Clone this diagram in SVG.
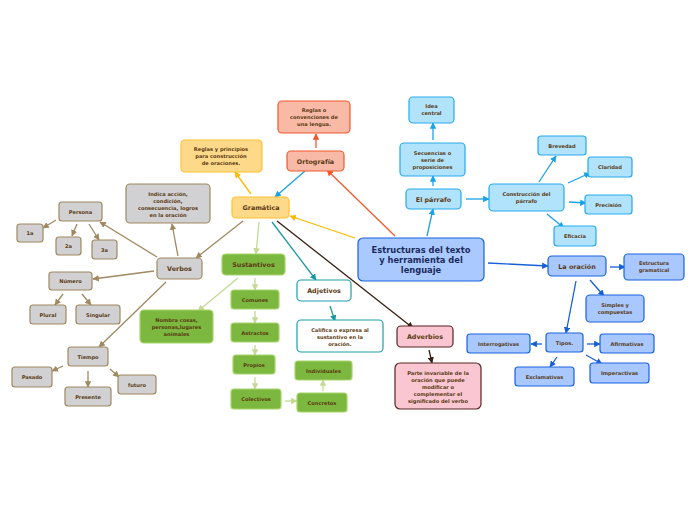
<svg xmlns="http://www.w3.org/2000/svg" width="696" height="520" viewBox="0 0 696 520">
<style>
text{font-family:"DejaVu Sans","Liberation Sans",sans-serif;font-weight:bold;text-anchor:middle;fill:#5a3a12}
.xl{font-size:8.3px;fill:#1c2b5c}
.l{font-size:6.4px}
.s{font-size:5.1px}
rect{stroke-width:1.2}
.c{fill:#a9c9ff;stroke:#1763e0}
.o{fill:#ffd98a;stroke:#ffc12b}
.r{fill:#f8b9a6;stroke:#f0592b}
.g{fill:#d1d1d3;stroke:#a08861}
.gr{fill:#7cb83f;stroke:#a8d46c}
.a{fill:#ffffff;stroke:#1aa0a9}
.p{fill:#f9c6d1;stroke:#5b2424}
.b{fill:#b2e3fc;stroke:#28a9e9}
.d{fill:#a8c8ff;stroke:#1a62e0}
#conn line{stroke-width:1.3;fill:none}
</style>
<defs>
<marker id="mO" viewBox="0 0 10 10" refX="9" refY="5" markerWidth="5" markerHeight="5" orient="auto" markerUnits="strokeWidth"><path d="M0,0L10,5L0,10z" fill="#ffb900"/></marker>
<marker id="mR" viewBox="0 0 10 10" refX="9" refY="5" markerWidth="5" markerHeight="5" orient="auto" markerUnits="strokeWidth"><path d="M0,0L10,5L0,10z" fill="#f0592b"/></marker>
<marker id="mB" viewBox="0 0 10 10" refX="9" refY="5" markerWidth="5" markerHeight="5" orient="auto" markerUnits="strokeWidth"><path d="M0,0L10,5L0,10z" fill="#1aa2e8"/></marker>
<marker id="mW" viewBox="0 0 10 10" refX="9" refY="5" markerWidth="5" markerHeight="5" orient="auto" markerUnits="strokeWidth"><path d="M0,0L10,5L0,10z" fill="#a08861"/></marker>
<marker id="mG" viewBox="0 0 10 10" refX="9" refY="5" markerWidth="5" markerHeight="5" orient="auto" markerUnits="strokeWidth"><path d="M0,0L10,5L0,10z" fill="#c2da92"/></marker>
<marker id="mT" viewBox="0 0 10 10" refX="9" refY="5" markerWidth="5" markerHeight="5" orient="auto" markerUnits="strokeWidth"><path d="M0,0L10,5L0,10z" fill="#1a98a2"/></marker>
<marker id="mK" viewBox="0 0 10 10" refX="9" refY="5" markerWidth="5" markerHeight="5" orient="auto" markerUnits="strokeWidth"><path d="M0,0L10,5L0,10z" fill="#3a1e10"/></marker>
<marker id="mD" viewBox="0 0 10 10" refX="9" refY="5" markerWidth="5" markerHeight="5" orient="auto" markerUnits="strokeWidth"><path d="M0,0L10,5L0,10z" fill="#1560d8"/></marker>
</defs>
<rect width="696" height="520" fill="#ffffff"/>
<g id="conn">
<line x1="355" y1="238" x2="290" y2="216" stroke="#ffb900" marker-end="url(#mO)"/>
<line x1="395" y1="236" x2="327" y2="170" stroke="#f0592b" marker-end="url(#mR)"/>
<line x1="305" y1="171" x2="275" y2="197" stroke="#1aa2e8" marker-end="url(#mB)"/>
<line x1="251" y1="194" x2="235" y2="172" stroke="#ffb900" marker-end="url(#mO)"/>
<line x1="316" y1="148" x2="316" y2="134" stroke="#f0592b" marker-end="url(#mR)"/>
<line x1="243" y1="221" x2="196" y2="258" stroke="#a08861" marker-end="url(#mW)"/>
<line x1="259" y1="222" x2="256" y2="254" stroke="#c2da92" marker-end="url(#mG)"/>
<line x1="272" y1="222" x2="316" y2="280" stroke="#1a98a2" marker-end="url(#mT)"/>
<line x1="277" y1="221" x2="413" y2="328" stroke="#3a1e10" marker-end="url(#mK)"/>
<line x1="178" y1="256" x2="172" y2="224" stroke="#a08861" marker-end="url(#mW)"/>
<line x1="157" y1="257" x2="100" y2="222" stroke="#a08861" marker-end="url(#mW)"/>
<line x1="56" y1="220" x2="43" y2="228" stroke="#a08861" marker-end="url(#mW)"/>
<line x1="77" y1="224" x2="72" y2="236" stroke="#a08861" marker-end="url(#mW)"/>
<line x1="89" y1="224" x2="99" y2="240" stroke="#a08861" marker-end="url(#mW)"/>
<line x1="154" y1="271" x2="93" y2="279" stroke="#a08861" marker-end="url(#mW)"/>
<line x1="63" y1="294" x2="55" y2="305" stroke="#a08861" marker-end="url(#mW)"/>
<line x1="82" y1="294" x2="91" y2="305" stroke="#a08861" marker-end="url(#mW)"/>
<line x1="166" y1="282" x2="99" y2="347" stroke="#a08861" marker-end="url(#mW)"/>
<line x1="63" y1="366" x2="52" y2="371" stroke="#a08861" marker-end="url(#mW)"/>
<line x1="88" y1="371" x2="88" y2="387" stroke="#a08861" marker-end="url(#mW)"/>
<line x1="110" y1="369" x2="119" y2="377" stroke="#a08861" marker-end="url(#mW)"/>
<line x1="238" y1="278" x2="198" y2="311" stroke="#c2da92" marker-end="url(#mG)"/>
<line x1="255" y1="278" x2="255" y2="290" stroke="#c2da92" marker-end="url(#mG)"/>
<line x1="255" y1="311" x2="255" y2="323" stroke="#c2da92" marker-end="url(#mG)"/>
<line x1="255" y1="345" x2="255" y2="355" stroke="#c2da92" marker-end="url(#mG)"/>
<line x1="255" y1="377" x2="255" y2="389" stroke="#c2da92" marker-end="url(#mG)"/>
<line x1="285" y1="401" x2="297" y2="401" stroke="#c2da92" marker-end="url(#mG)"/>
<line x1="323" y1="391" x2="323" y2="380" stroke="#c2da92" marker-end="url(#mG)"/>
<line x1="330" y1="306" x2="335" y2="321" stroke="#1a98a2" marker-end="url(#mT)"/>
<line x1="429" y1="350" x2="432" y2="363" stroke="#3a1e10" marker-end="url(#mK)"/>
<line x1="427" y1="236" x2="433" y2="209" stroke="#1aa2e8" marker-end="url(#mB)"/>
<line x1="433" y1="186" x2="433" y2="176" stroke="#1aa2e8" marker-end="url(#mB)"/>
<line x1="433" y1="140" x2="433" y2="123" stroke="#1aa2e8" marker-end="url(#mB)"/>
<line x1="466" y1="199" x2="489" y2="199" stroke="#1aa2e8" marker-end="url(#mB)"/>
<line x1="539" y1="182" x2="556" y2="156" stroke="#1aa2e8" marker-end="url(#mB)"/>
<line x1="568" y1="183" x2="590" y2="173" stroke="#1aa2e8" marker-end="url(#mB)"/>
<line x1="569" y1="202" x2="586" y2="203" stroke="#1aa2e8" marker-end="url(#mB)"/>
<line x1="547" y1="214" x2="564" y2="228" stroke="#1aa2e8" marker-end="url(#mB)"/>
<line x1="488" y1="263" x2="548" y2="266" stroke="#1560d8" marker-end="url(#mD)"/>
<line x1="610" y1="267" x2="625" y2="267" stroke="#1560d8" marker-end="url(#mD)"/>
<line x1="590" y1="280" x2="604" y2="296" stroke="#1560d8" marker-end="url(#mD)"/>
<line x1="576" y1="281" x2="566" y2="333" stroke="#1560d8" marker-end="url(#mD)"/>
<line x1="542" y1="344" x2="531" y2="344" stroke="#1560d8" marker-end="url(#mD)"/>
<line x1="587" y1="344" x2="600" y2="344" stroke="#1560d8" marker-end="url(#mD)"/>
<line x1="557" y1="357" x2="550" y2="367" stroke="#1560d8" marker-end="url(#mD)"/>
<line x1="586" y1="355" x2="602" y2="364" stroke="#1560d8" marker-end="url(#mD)"/>
</g>
<g id="central"><rect class="c" x="358" y="238" width="126" height="43" rx="5"/><text class="xl" x="421" y="253">Estructuras del texto</text><text class="xl" x="421" y="263">y herramienta del</text><text class="xl" x="421" y="273">lenguaje</text></g>
<g id="gramatica"><rect class="o" x="232" y="197" width="57" height="21" rx="4"/><text class="l" x="261" y="210">Gramática</text></g>
<g id="reglas-principios"><rect class="o" x="181" y="140" width="81" height="32" rx="4"/><text class="s" x="221" y="151">Reglas y principios</text><text class="s" x="221" y="158">para construcción</text><text class="s" x="221" y="165">de oraciones.</text></g>
<g id="ortografia"><rect class="r" x="287" y="151" width="57" height="20" rx="4"/><text class="l" x="315.5" y="163.5">Ortografía</text></g>
<g id="reglas-convenciones"><rect class="r" x="278" y="101" width="72" height="32" rx="4"/><text class="s" x="314" y="112">Reglas o</text><text class="s" x="314" y="119">convenciones de</text><text class="s" x="314" y="126">una lengua.</text></g>
<g id="verbos"><rect class="g" x="157" y="258" width="45" height="21" rx="4"/><text class="l" x="179.5" y="271">Verbos</text></g>
<g id="indica"><rect class="g" x="126" y="184" width="84" height="39" rx="4"/><text class="s" x="168" y="196">Indica acción,</text><text class="s" x="168" y="203">condición,</text><text class="s" x="168" y="210">consecuencia, logros</text><text class="s" x="168" y="217">en la oración</text></g>
<g id="persona"><rect class="g" x="59" y="202" width="43" height="19" rx="3"/><text class="s" x="80.5" y="213.5">Persona</text></g>
<g id="p1a"><rect class="g" x="17" y="224" width="26" height="18" rx="3"/><text class="s" x="30" y="235">1a</text></g>
<g id="p2a"><rect class="g" x="56" y="237" width="25" height="18" rx="3"/><text class="s" x="68.5" y="248">2a</text></g>
<g id="p3a"><rect class="g" x="92" y="240" width="25" height="19" rx="3"/><text class="s" x="104.5" y="251.5">3a</text></g>
<g id="numero"><rect class="g" x="49" y="272" width="43" height="18" rx="3"/><text class="s" x="70.5" y="283">Número</text></g>
<g id="plural"><rect class="g" x="30" y="305" width="36" height="19" rx="3"/><text class="s" x="48" y="316.5">Plural</text></g>
<g id="singular"><rect class="g" x="76" y="305" width="44" height="19" rx="3"/><text class="s" x="98" y="316.5">Singular</text></g>
<g id="tiempo"><rect class="g" x="68" y="347" width="40" height="19" rx="3"/><text class="s" x="88" y="358.5">Tiempo</text></g>
<g id="pasado"><rect class="g" x="12" y="367" width="40" height="20" rx="3"/><text class="s" x="32" y="379">Pasado</text></g>
<g id="presente"><rect class="g" x="65" y="387" width="46" height="19" rx="3"/><text class="s" x="88" y="398.5">Presente</text></g>
<g id="futuro"><rect class="g" x="118" y="375" width="38" height="19" rx="3"/><text class="s" x="137" y="386.5">futuro</text></g>
<g id="sustantivos"><rect class="gr" x="222" y="254" width="63" height="21" rx="4"/><text class="l" x="253.5" y="267">Sustantivos</text></g>
<g id="nombra"><rect class="gr" x="140" y="310" width="73" height="33" rx="4"/><text class="s" x="176.5" y="322">Nombra cosas,</text><text class="s" x="176.5" y="329">personas,lugares</text><text class="s" x="176.5" y="336">animales</text></g>
<g id="comunes"><rect class="gr" x="231" y="290" width="48" height="19" rx="3"/><text class="s" x="255" y="301.5">Comunes</text></g>
<g id="astractos"><rect class="gr" x="231" y="323" width="48" height="19" rx="3"/><text class="s" x="255" y="334.5">Astractos</text></g>
<g id="propios"><rect class="gr" x="233" y="355" width="42" height="19" rx="3"/><text class="s" x="254" y="366.5">Propios</text></g>
<g id="colectivos"><rect class="gr" x="231" y="389" width="50" height="20" rx="3"/><text class="s" x="256" y="401">Colectivos</text></g>
<g id="concretos"><rect class="gr" x="297" y="393" width="50" height="19" rx="3"/><text class="s" x="322" y="404.5">Concretos</text></g>
<g id="individuales"><rect class="gr" x="295" y="361" width="57" height="19" rx="3"/><text class="s" x="323.5" y="372.5">Individuales</text></g>
<g id="adjetivos"><rect class="a" x="297" y="280" width="54" height="21" rx="4"/><text class="l" x="324" y="293">Adjetivos</text></g>
<g id="califica"><rect class="a" x="297" y="320" width="86" height="32" rx="4"/><text class="s" x="340" y="332">Califica o expresa al</text><text class="s" x="340" y="339">sustantivo en la</text><text class="s" x="340" y="346">oración.</text></g>
<g id="adverbios"><rect class="p" x="397" y="326" width="56" height="21" rx="4"/><text class="l" x="425" y="339">Adverbios</text></g>
<g id="parte"><rect class="p" x="395" y="363" width="86" height="46" rx="5"/><text class="s" x="438" y="375">Parte invariable de la</text><text class="s" x="438" y="382">oración que puede</text><text class="s" x="438" y="389">modificar o</text><text class="s" x="438" y="396">complementar el</text><text class="s" x="438" y="403">significado del verbo</text></g>
<g id="parrafo"><rect class="b" x="406" y="189" width="55" height="20" rx="4"/><text class="l" x="433.5" y="201.5">El párrafo</text></g>
<g id="secuencias"><rect class="b" x="400" y="143" width="65" height="33" rx="4"/><text class="s" x="432.5" y="155">Secuencias o</text><text class="s" x="432.5" y="162">serie de</text><text class="s" x="432.5" y="169">proposiciones</text></g>
<g id="idea"><rect class="b" x="409" y="97" width="45" height="26" rx="4"/><text class="s" x="431.5" y="108">Idea</text><text class="s" x="431.5" y="115">central</text></g>
<g id="construccion"><rect class="b" x="489" y="184" width="75" height="27" rx="4"/><text class="s" x="526.5" y="196">Construcción del</text><text class="s" x="526.5" y="203">párrafo</text></g>
<g id="brevedad"><rect class="b" x="538" y="136" width="48" height="19" rx="3"/><text class="s" x="562" y="147.5">Brevedad</text></g>
<g id="claridad"><rect class="b" x="588" y="157" width="44" height="20" rx="3"/><text class="s" x="610" y="169">Claridad</text></g>
<g id="precision"><rect class="b" x="585" y="195" width="47" height="19" rx="3"/><text class="s" x="608.5" y="206.5">Precisión</text></g>
<g id="eficacia"><rect class="b" x="554" y="226" width="42" height="20" rx="3"/><text class="s" x="575" y="238">Eficacia</text></g>
<g id="oracion"><rect class="d" x="548" y="256" width="58" height="20" rx="4"/><text class="l" x="577" y="268.5">La oración</text></g>
<g id="estructura"><rect class="d" x="624" y="254" width="60" height="26" rx="4"/><text class="s" x="654" y="265">Estructura</text><text class="s" x="654" y="272">gramatical</text></g>
<g id="simples"><rect class="d" x="586" y="295" width="58" height="27" rx="4"/><text class="s" x="615" y="307">Simples y</text><text class="s" x="615" y="314">compuestas</text></g>
<g id="tipos"><rect class="d" x="546" y="333" width="37" height="19" rx="3"/><text class="s" x="564.5" y="344.5">Tipos.</text></g>
<g id="interrogativas"><rect class="d" x="467" y="334" width="63" height="19" rx="3"/><text class="s" x="498.5" y="345.5">Interrogativas</text></g>
<g id="afirmativas"><rect class="d" x="600" y="334" width="54" height="19" rx="3"/><text class="s" x="627" y="345.5">Afirmativas</text></g>
<g id="exclamativas"><rect class="d" x="515" y="367" width="59" height="19" rx="3"/><text class="s" x="544.5" y="378.5">Exclamativas</text></g>
<g id="imperactivas"><rect class="d" x="590" y="363" width="59" height="20" rx="3"/><text class="s" x="619.5" y="375">Imperactivas</text></g>
</svg>
